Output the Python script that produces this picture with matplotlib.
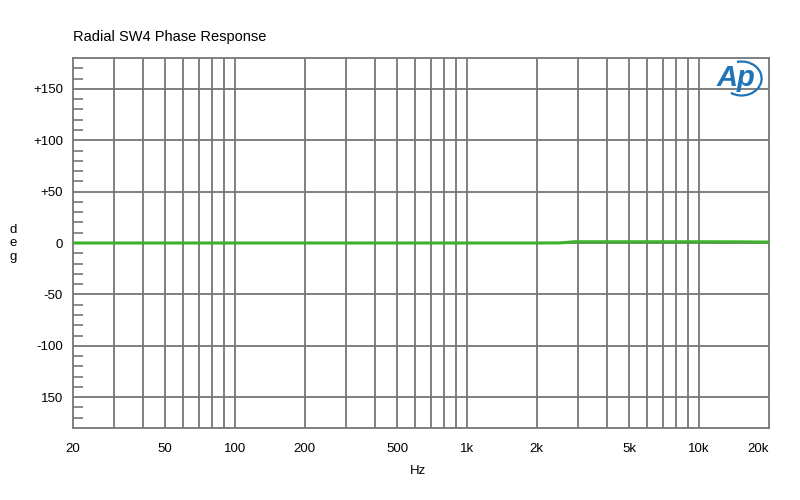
import numpy as np
import matplotlib.pyplot as plt
from matplotlib.patches import Arc
from matplotlib.ticker import FixedLocator, NullFormatter

plt.rcParams['font.family'] = ['Liberation Sans', 'DejaVu Sans']

# phase response
freq = [20, 50, 100, 200, 500, 1000, 2000, 2500, 2700, 2900, 5000, 10000, 15000, 20000]
phase = [0, 0, 0, 0, 0, 0, 0, 0.1, 0.6, 1.2, 1.2, 1.2, 1.1, 0.9]

x_ticks = [20, 50, 100, 200, 500, 1000, 2000, 5000, 10000, 20000]
x_labels = ['20', '50', '100', '200', '500', '1k', '2k', '5k', '10k', '20k']
y_ticks = [-150, -100, -50, 0, 50, 100, 150]
y_labels = ['150', '-100', '-50', '0', '+50', '+100', '+150']

grid_col = '#767676'

fig = plt.figure(figsize=(8, 5), dpi=100)
ax = fig.add_axes([0.091, 0.144, 0.870, 0.740])

ax.set_xscale('log')
ax.set_xlim(20, 20000)
ax.set_ylim(-180, 180)

# vertical grid at 1..9 per decade
vgrid = [m * 10 ** d for d in range(1, 5) for m in range(1, 10)]
vgrid = [v for v in vgrid if 20 < v < 20000]
for v in vgrid:
    ax.axvline(v, color=grid_col, lw=1.3, zorder=1)
for h in y_ticks:
    ax.axhline(h, color=grid_col, lw=1.3, zorder=1)

ax.plot(freq, phase, color='#3cb22a', lw=2.2, zorder=3)

ax.xaxis.set_major_locator(FixedLocator(x_ticks))
ax.set_xticklabels(x_labels)
ax.xaxis.set_minor_formatter(NullFormatter())
ax.tick_params(axis='x', which='both', length=0, pad=11, labelsize=9.5)
lbls = ax.get_xticklabels()
lbls[-1].set_horizontalalignment('right')

ax.set_yticks(y_ticks)
ax.set_yticklabels(y_labels)
ax.set_yticks([v for v in range(-170, 180, 10) if v % 50 != 0], minor=True)
ax.tick_params(axis='y', which='major', length=0, pad=7, labelsize=9.5)
ax.tick_params(axis='y', which='minor', direction='in', length=7,
               width=1.2, color=grid_col, left=True)

for s in ax.spines.values():
    s.set_color(grid_col)
    s.set_linewidth(1.3)

fig.text(0.091, 0.925, 'Radial SW4 Phase Response', fontsize=10.5,
         ha='left', va='center')
fig.text(0.522, 0.058, 'Hz', fontsize=9.5, ha='center', va='center')
fig.text(0.017, 0.513, 'd\ne\ng', fontsize=9.5, ha='center', va='center',
         linespacing=1.2)

# Ap logo
fig.text(0.920, 0.843, 'Ap', fontsize=21, color='#1f74b8', style='italic',
         weight='bold', ha='center', va='center')
fig.add_artist(Arc((0.927, 0.843), 0.050, 0.068, theta1=-115, theta2=100,
                   transform=fig.transFigure, color='#1f74b8', lw=1.6))

fig.savefig('out.png', dpi=100)
